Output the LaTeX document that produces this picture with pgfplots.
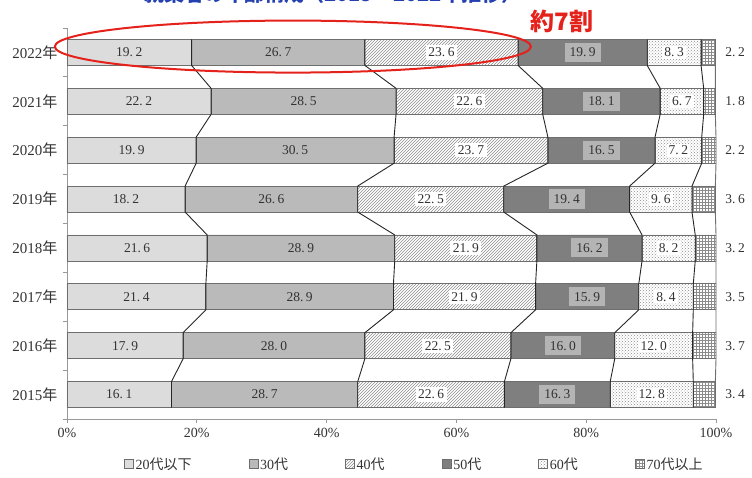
\documentclass[border=0pt]{standalone}
\usepackage{pgfplots}
\pgfplotsset{compat=1.18}
\usepackage{pgfplotstable}
\usetikzlibrary{patterns}
\usepackage{fontspec}
\setmainfont{Liberation Serif}
\newfontfamily\cjk{Noto Sans CJK JP}
\definecolor{txt}{HTML}{333333}
\definecolor{cA}{HTML}{DCDCDC}
\definecolor{cB}{HTML}{BABABA}
\definecolor{cD}{HTML}{7F7F7F}
\definecolor{cDlab}{HTML}{B4B4B4}
\definecolor{edge}{HTML}{6E6E6E}
\definecolor{pat}{HTML}{8C8C8C}
\definecolor{ttl}{HTML}{2440B0}
\definecolor{rd}{HTML}{E5211B}

\pgfplotstableread{
y a b c d e f
0 16.1 28.7 22.6 16.3 12.8 3.4
1 17.9 28.0 22.5 16.0 12.0 3.7
2 21.4 28.9 21.9 15.9 8.4 3.5
3 21.6 28.9 21.9 16.2 8.2 3.2
4 18.2 26.6 22.5 19.4 9.6 3.6
5 19.9 30.5 23.7 16.5 7.2 2.2
6 22.2 28.5 22.6 18.1 6.7 1.8
7 19.2 26.7 23.6 19.9 8.3 2.2
}\data

\newcommand{\lblfont}{\fontsize{13.5}{14}\selectfont}

\begin{document}
\begin{tikzpicture}
\useasboundingbox (-67pt,-59pt) rectangle (685pt,419pt);
\begin{axis}[
  at={(0,0)}, anchor=south west,
  scale only axis, width=649pt, height=391pt,
  xbar stacked, bar width=26pt,
  xmin=0, xmax=100, ymin=-0.5, ymax=7.5,
  axis x line*=bottom, axis y line*=left,
  axis line style={draw=gray!80, line width=0.8pt},
  xtick={0,20,...,100},
  xticklabels={0\%,20\%,40\%,60\%,80\%,100\%},
  ytick={0,...,7},
  yticklabels={2015{\cjk 年},2016{\cjk 年},2017{\cjk 年},2018{\cjk 年},2019{\cjk 年},2020{\cjk 年},2021{\cjk 年},2022{\cjk 年}},
  minor ytick={-0.5,0.5,1.5,2.5,3.5,4.5,5.5,6.5,7.5},
  tick align=outside,
  major tick length=4pt, minor tick length=4pt,
  every tick/.append style={gray!80, line width=0.8pt},
  every major y tick/.append style={draw=none},
  tick label style={font=\fontsize{14}{14}\selectfont, text=txt},
  xticklabel style={yshift=-2pt},
  yticklabel style={font=\fontsize{15}{15}\selectfont, xshift=-2pt},
  legend columns=6,
  legend style={at={(0.535,-0.115)}, anchor=center, draw=none, fill=none,
    font=\fontsize{14}{14}\selectfont, text=txt,
    /tikz/every even column/.append style={column sep=55pt}},
  legend image code/.code={\draw[#1, draw=edge, line width=0.6pt] (0pt,-4.5pt) rectangle (9pt,4.5pt);},
]
\addplot[fill=cA, draw=edge, line width=0.8pt] table[x=a,y=y]{\data};
\addplot[fill=cB, draw=edge, line width=0.8pt] table[x=b,y=y]{\data};
\addplot[pattern=north east lines, pattern color=pat, draw=edge, line width=0.8pt] table[x=c,y=y]{\data};
\addplot[fill=cD, draw=edge, line width=0.8pt] table[x=d,y=y]{\data};
\addplot[pattern=crosshatch dots, pattern color=pat, draw=edge, line width=0.8pt] table[x=e,y=y]{\data};
\addplot[pattern=grid, pattern color=pat, draw=edge, line width=0.8pt] table[x=f,y=y]{\data};
\legend{20{\cjk 代以下},30{\cjk 代},40{\cjk 代},50{\cjk 代},60{\cjk 代},70{\cjk 代以上}}
\end{axis}

\begin{axis}[
  at={(0,0)}, anchor=south west,
  scale only axis, width=649pt, height=391pt,
  xmin=0, xmax=100, ymin=-0.5, ymax=7.5,
  axis lines=none, clip=false,
  /pgf/number format/fixed, /pgf/number format/fixed zerofill,
  /pgf/number format/precision=1, /pgf/number format/assume math mode=true,
  /pgf/number format/set decimal separator={.\kern2.5pt},
  nodes near coords style={font=\lblfont, text=txt, anchor=center},
]
% series lines
\addplot[black!85, line width=0.9pt, mark=none] coordinates {(19.2,7.266)(19.2,6.734)(22.2,6.266)(22.2,5.734)(19.9,5.266)(19.9,4.734)(18.2,4.266)(18.2,3.734)(21.6,3.266)(21.6,2.734)(21.4,2.266)(21.4,1.734)(17.9,1.266)(17.9,0.734)(16.1,0.266)(16.1,-0.266)};
\addplot[black!85, line width=0.9pt, mark=none] coordinates {(45.9,7.266)(45.9,6.734)(50.7,6.266)(50.7,5.734)(50.4,5.266)(50.4,4.734)(44.8,4.266)(44.8,3.734)(50.5,3.266)(50.5,2.734)(50.3,2.266)(50.3,1.734)(45.9,1.266)(45.9,0.734)(44.8,0.266)(44.8,-0.266)};
\addplot[black!85, line width=0.9pt, mark=none] coordinates {(69.5,7.266)(69.5,6.734)(73.3,6.266)(73.3,5.734)(74.1,5.266)(74.1,4.734)(67.3,4.266)(67.3,3.734)(72.4,3.266)(72.4,2.734)(72.2,2.266)(72.2,1.734)(68.4,1.266)(68.4,0.734)(67.4,0.266)(67.4,-0.266)};
\addplot[black!85, line width=0.9pt, mark=none] coordinates {(89.4,7.266)(89.4,6.734)(91.4,6.266)(91.4,5.734)(90.6,5.266)(90.6,4.734)(86.7,4.266)(86.7,3.734)(88.6,3.266)(88.6,2.734)(88.1,2.266)(88.1,1.734)(84.4,1.266)(84.4,0.734)(83.7,0.266)(83.7,-0.266)};
\addplot[black!85, line width=0.9pt, mark=none] coordinates {(97.7,7.266)(97.7,6.734)(98.1,6.266)(98.1,5.734)(97.8,5.266)(97.8,4.734)(96.3,4.266)(96.3,3.734)(96.8,3.266)(96.8,2.734)(96.5,2.266)(96.5,1.734)(96.4,1.266)(96.4,0.734)(96.5,0.266)(96.5,-0.266)};
\addplot[edge, line width=0.9pt, mark=none] coordinates {(99.9,7.266)(99.9,6.734)(99.9,6.266)(99.9,5.734)(100,5.266)(100,4.734)(99.9,4.266)(99.9,3.734)(100,3.266)(100,2.734)(100,2.266)(100,1.734)(100,1.266)(100,0.734)(99.9,0.266)(99.9,-0.266)};
% value labels
\addplot[draw=none, mark=none, nodes near coords, point meta=explicit] table[x expr=\thisrow{a}/2, y=y, meta=a]{\data};
\addplot[draw=none, mark=none, nodes near coords, point meta=explicit] table[x expr=\thisrow{a}+\thisrow{b}/2, y=y, meta=b]{\data};
\addplot[draw=none, mark=none, nodes near coords, point meta=explicit,
  nodes near coords style={fill=white, inner sep=2.5pt}] table[x expr=\thisrow{a}+\thisrow{b}+\thisrow{c}/2, y=y, meta=c]{\data};
\addplot[draw=none, mark=none, nodes near coords, point meta=explicit,
  nodes near coords style={fill=cDlab, inner xsep=5pt, inner ysep=5pt}] table[x expr=\thisrow{a}+\thisrow{b}+\thisrow{c}+\thisrow{d}/2, y=y, meta=d]{\data};
\addplot[draw=none, mark=none, nodes near coords, point meta=explicit,
  nodes near coords style={fill=white, inner sep=2pt}] table[x expr=\thisrow{a}+\thisrow{b}+\thisrow{c}+\thisrow{d}+\thisrow{e}/2, y=y, meta=e]{\data};
\addplot[draw=none, mark=none, nodes near coords, point meta=explicit,
  nodes near coords style={anchor=west}] table[x expr=100.9, y=y, meta=f]{\data};
% annotations
\draw[rd, line width=2pt] (axis cs:34.8,7.12) ellipse [x radius=238pt, y radius=26pt];
\node[text=rd, font=\cjk\bfseries\fontsize{24}{24}\selectfont] at (axis cs:76.3,7.64) {約7割};
\node[text=ttl, font=\cjk\bfseries\fontsize{20}{20}\selectfont] at (axis cs:41,8.2) {就業者の年齢構成（2015～2022年推移）};
\end{axis}
\end{tikzpicture}
\end{document}
